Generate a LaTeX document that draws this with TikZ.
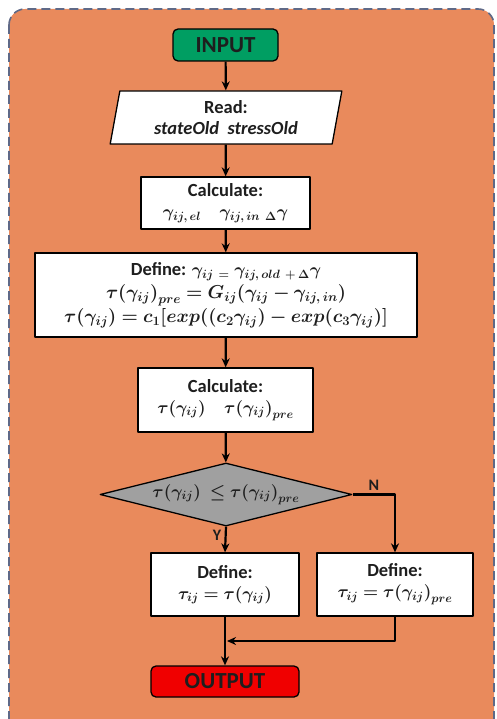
\documentclass[tikz,border=0pt]{standalone}
\usepackage{amsmath,bm,graphicx}
\usepackage{fontspec}
\setmainfont{Carlito}
\usetikzlibrary{shapes.geometric,arrows.meta}
\definecolor{bgorange}{RGB}{233,138,92}
\definecolor{frameblue}{RGB}{95,105,135}
\definecolor{inputgreen}{RGB}{0,158,98}
\definecolor{outputred}{RGB}{240,0,0}
\definecolor{testgray}{RGB}{160,160,160}
\definecolor{inkgray}{RGB}{30,30,30}
\newcommand{\bmath}[1]{$\bm{#1}$}
\newcommand{\bigbmath}[1]{\scalebox{1.08}{$\bm{#1}$}}
\tikzset{
  box/.style={draw=black, fill=white, line width=1.3pt, align=center, inner sep=2pt,
    text=inkgray, font=\fontsize{18.5}{21}\selectfont\bfseries},
  term/.style={box, rounded corners=5pt, font=\fontsize{23}{25}\selectfont\bfseries},
  flow/.style={-{Stealth[length=9pt,width=8pt]}, line width=2.2pt},
  tag/.style={text=inkgray, font=\fontsize{16}{18}\selectfont\bfseries}
}
\begin{document}
\begin{tikzpicture}[x=1pt, y=-1pt, line join=round]
\useasboundingbox (0,0) rectangle (497,719);
% background panel
\draw[frameblue, fill=bgorange, line width=1.6pt, dash pattern=on 9pt off 5pt, rounded corners=16pt]
  (9,9) rectangle (494,760);
% blocks
\node[term, fill=inputgreen, minimum width=105pt, minimum height=32pt] (input) at (225.5,45) {INPUT};
\node[box, trapezium, trapezium left angle=80, trapezium right angle=100, trapezium stretches=true,
  minimum width=232pt, minimum height=53pt] (read) at (226,117.5)
  {Read:\\ \textit{stateOld\ \ stressOld}};
\node[box, minimum width=169pt, minimum height=52pt] (calc1) at (225.5,203)
  {Calculate:\\ \bmath{\gamma_{ij,\,el}\quad\gamma_{ij,\,in}\;{}_{\Delta}\gamma}};
\node[box, minimum width=382pt, minimum height=84pt] (define) at (226,295)
  {Define: \bmath{\gamma_{ij}\;{}_{=}\;\gamma_{ij,\,old}\;{}_{+\,\Delta}\gamma}\\[2pt]
   \bigbmath{\tau(\gamma_{ij})_{pre}=G_{ij}(\gamma_{ij}-\gamma_{ij,\,in})}\\[1pt]
   \bigbmath{\tau(\gamma_{ij})=c_1[exp((c_2\gamma_{ij})-exp(c_3\gamma_{ij})]}};
\node[box, minimum width=175pt, minimum height=64pt] (calc2) at (225.5,400)
  {Calculate:\\ \bmath{\tau(\gamma_{ij})\quad\tau(\gamma_{ij})_{pre}}};
\node[box, diamond, aspect=4, fill=testgray, inner sep=0pt, minimum width=252pt, minimum height=63pt] (test) at (226,494.5)
  {\bmath{\tau(\gamma_{ij})\ \leq\tau(\gamma_{ij})_{pre}}};
\node[box, minimum width=148pt, minimum height=63pt] (def1) at (225,584.5)
  {Define:\\ \bmath{\tau_{ij}=\tau(\gamma_{ij})}};
\node[box, minimum width=156pt, minimum height=63pt] (def2) at (395,584.5)
  {Define:\\ \bmath{\tau_{ij}=\tau(\gamma_{ij})_{pre}}};
\node[term, fill=outputred, minimum width=148pt, minimum height=31pt] (output) at (225,681.5) {OUTPUT};
\coordinate (merge) at (227,641);
% connectors
\draw[flow] (input) -- (read);
\draw[flow] (read) -- (calc1);
\draw[flow] (calc1) -- (define);
\draw[flow] (define) -- (calc2);
\draw[flow] (calc2) -- (test);
\draw[flow] (test.south) -- node[tag, left, pos=0.35] {Y} (def1.north);
\draw[flow] (test.east) -| node[tag, above, pos=0.25] {N} (def2.north);
\draw[flow] (def1.south) -- (output.north);
\draw[flow] (def2.south) |- (merge);
\end{tikzpicture}
\end{document}
